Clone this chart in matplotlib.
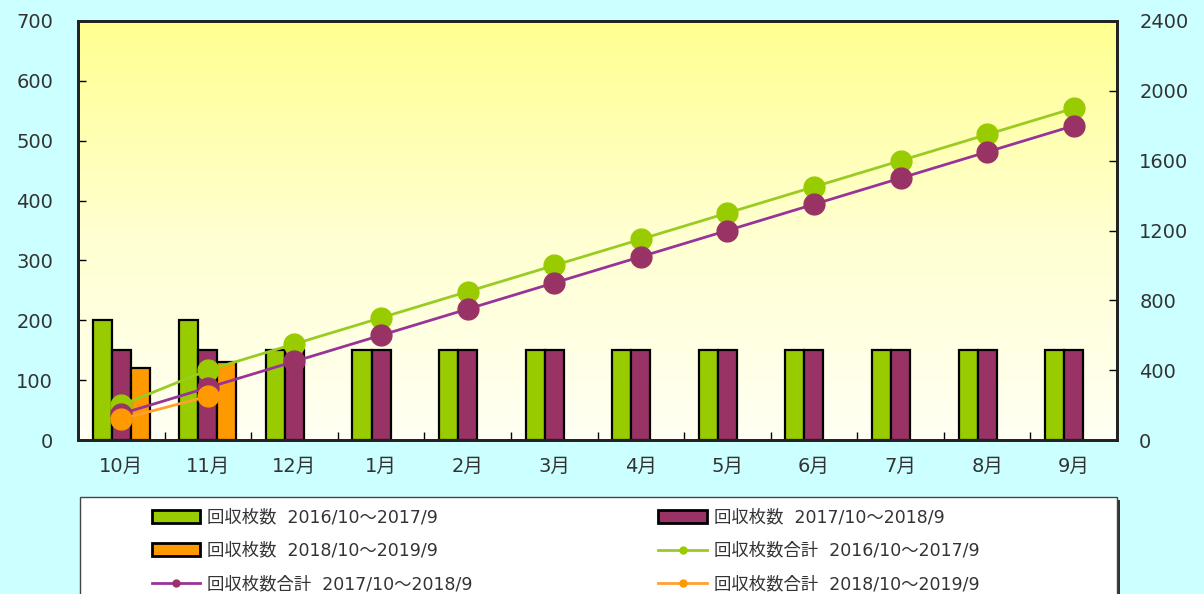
import numpy as np
import matplotlib
matplotlib.use("Agg")
import matplotlib.pyplot as plt
from matplotlib.patches import Rectangle, Patch
from matplotlib.lines import Line2D
from matplotlib.colors import LinearSegmentedColormap

plt.rcParams['font.family'] = ['DejaVu Sans', 'Noto Sans CJK JP']

months = ['10月', '11月', '12月', '1月', '2月', '3月', '4月', '5月', '6月', '7月', '8月', '9月']
count_2016 = [200, 200, 150, 150, 150, 150, 150, 150, 150, 150, 150, 150]
count_2017 = [150, 150, 150, 150, 150, 150, 150, 150, 150, 150, 150, 150]
count_2018 = [120, 130]
cum_2016 = [200, 400, 550, 700, 850, 1000, 1150, 1300, 1450, 1600, 1750, 1900]
cum_2017 = [150, 300, 450, 600, 750, 900, 1050, 1200, 1350, 1500, 1650, 1800]
cum_2018 = [120, 250]

labels = ['回収枚数  2016/10～2017/9', '回収枚数  2017/10～2018/9', '回収枚数  2018/10～2019/9',
          '回収枚数合計  2016/10～2017/9', '回収枚数合計  2017/10～2018/9', '回収枚数合計  2018/10～2019/9']

bar_colors = ['#99CC00', '#993366', '#FF9900']
line_colors = ['#99CC22', '#993399', '#FFA030']
marker_colors = ['#99CC00', '#993366', '#FF9900']
txt = '#333333'

fig = plt.figure(figsize=(12.04, 5.94), dpi=100)
fig.patch.set_facecolor('#CCFFFF')
ax = fig.add_axes([78/1204, 1-440/594, (1117-78)/1204, (440-21)/594])
ax.set_facecolor('none')

x = np.arange(len(months))
w = 0.22
grad = np.linspace(0, 1, 256).reshape(-1, 1)
cmap = LinearSegmentedColormap.from_list('g', ['#FFFFF4', '#FFFFD0', '#FFFF90'])
ax.imshow(grad, extent=[-0.5, len(months)-0.5, 0, 700], origin='lower', aspect='auto',
          cmap=cmap, zorder=0)

ax.bar(x - w, count_2016, w, color=bar_colors[0], edgecolor='black', linewidth=1.6, zorder=2)
ax.bar(x, count_2017, w, color=bar_colors[1], edgecolor='black', linewidth=1.6, zorder=2)
ax.bar(x[:len(count_2018)] + w, count_2018, w, color=bar_colors[2], edgecolor='black', linewidth=1.6, zorder=2)

ax.set_xlim(-0.5, len(months) - 0.5)
ax.set_ylim(0, 700)
ax.set_yticks(range(0, 701, 100))
ax.set_xticks(x)
ax.set_xticklabels(months)
ax.set_xticks(np.arange(-0.5, len(months), 1)[1:-1], minor=True)
ax.tick_params(axis='x', which='major', length=0, pad=12, labelsize=14, labelcolor=txt)
ax.tick_params(axis='x', which='minor', direction='in', length=6, width=1)
ax.tick_params(axis='y', direction='in', length=6, width=1, pad=18, labelsize=14, labelcolor=txt)
for s in ax.spines.values():
    s.set_linewidth(2)
    s.set_color('#222222')

ax2 = ax.twinx()
ax2.set_ylim(0, 2400)
ax2.set_yticks(range(0, 2401, 400))
ax2.tick_params(axis='y', direction='in', length=6, width=1, pad=16, labelsize=14, labelcolor=txt)
for s in ax2.spines.values():
    s.set_linewidth(2)
    s.set_color('#222222')

for vals, lc, mc in [(cum_2016, line_colors[0], marker_colors[0]),
                     (cum_2017, line_colors[1], marker_colors[1]),
                     (cum_2018, line_colors[2], marker_colors[2])]:
    ax2.plot(x[:len(vals)], vals, color=lc, lw=2, marker='o', ms=15,
             markerfacecolor=mc, markeredgecolor=mc, zorder=3)

# legend frame with shadow
fig.patches.append(Rectangle((83/1204, -0.05), (1120-83)/1204, (1-497/594) + 0.05 - 3/594,
                             transform=fig.transFigure, facecolor='#333333', edgecolor='none', zorder=1))
fig.patches.append(Rectangle((80/1204, -0.05), (1117-80)/1204, (1-497/594) + 0.05,
                             transform=fig.transFigure, facecolor='white', edgecolor='#444444',
                             linewidth=1, zorder=2))

handles = [
    Patch(facecolor=bar_colors[0], edgecolor='black', linewidth=2),
    Patch(facecolor=bar_colors[1], edgecolor='black', linewidth=2),
    Patch(facecolor=bar_colors[2], edgecolor='black', linewidth=2),
]
for lc, mc in zip(line_colors, marker_colors):
    handles.append(Line2D([], [], color=lc, lw=2, marker='o', ms=5,
                          markerfacecolor=mc, markeredgecolor=mc))
order = [0, 2, 4, 1, 3, 5]
leg = fig.legend([handles[i] for i in order], [labels[i] for i in order], ncol=2,
                 loc='upper left', bbox_to_anchor=(136/1204, 1-493/594),
                 frameon=False, fontsize=12.5, handlelength=2.8, handleheight=0.75,
                 handletextpad=0.4, columnspacing=10.7, labelspacing=0.87,
                 labelcolor=txt)
leg.set_zorder(3)

fig.savefig('out.png', dpi=100, facecolor=fig.get_facecolor())
